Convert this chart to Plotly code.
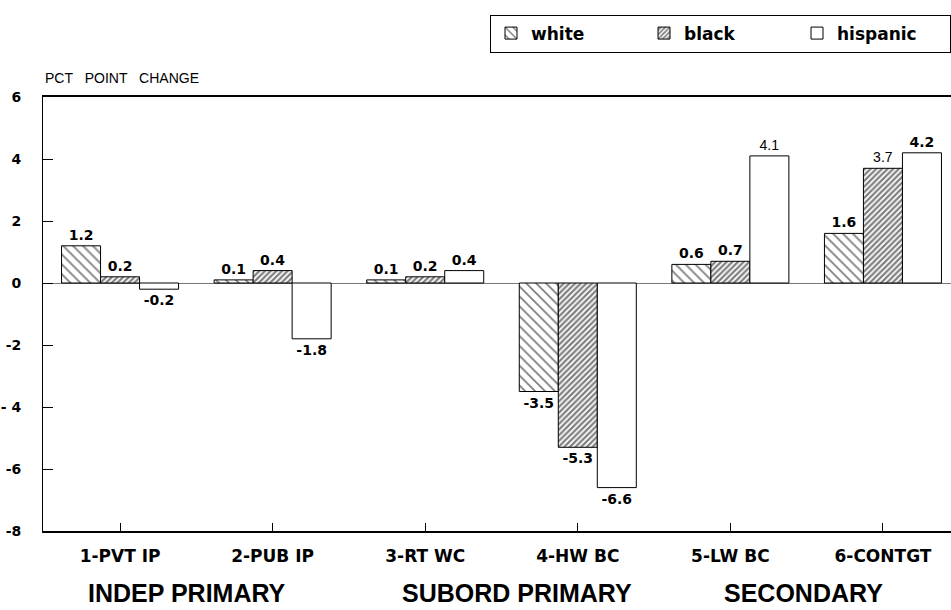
import plotly.graph_objects as go

categories = ["1-PVT IP", "2-PUB IP", "3-RT WC", "4-HW BC", "5-LW BC", "6-CONTGT"]
white = [1.2, 0.1, 0.1, -3.5, 0.6, 1.6]
black = [0.2, 0.4, 0.2, -5.3, 0.7, 3.7]
hispanic = [-0.2, -1.8, 0.4, -6.6, 4.1, 4.2]
# labels printed in a light (non-bold) face in the original
light_white = [False] * 6
light_black = [False, False, False, False, False, True]
light_hispanic = [False, False, False, False, True, False]

group_labels = ["INDEP PRIMARY", "SUBORD PRIMARY", "SECONDARY"]
group_pos = [0.44, 2.6, 4.48]
ytick_vals = [-8, -6, -4, -2, 0, 2, 4, 6]
ytick_text = ["-8", "-6", "- 4", "-2", "0", "2", "4", "6"]


def labels(vals, light):
    out = []
    for v, l in zip(vals, light):
        s = f"{v:.1f}"
        out.append(s if l else f"<b>{s}</b>")
    return out


def fams(light):
    return ["Liberation Sans" if l else "DejaVu Sans" for l in light]


fig = go.Figure()
series = [
    ("white", white, light_white, dict(shape="\\", fgcolor="black", bgcolor="white", size=7, solidity=0.25)),
    ("black", black, light_black, dict(shape="/", fgcolor="black", bgcolor="white", size=4, solidity=0.55)),
    ("hispanic", hispanic, light_hispanic, None),
]
for name, vals, light, pat in series:
    marker = dict(color="white", line=dict(color="black", width=1))
    if pat:
        marker["pattern"] = pat
    fig.add_trace(go.Bar(
        name=name, x=categories, y=vals, marker=marker,
        text=labels(vals, light), textposition="outside",
        textfont=dict(family=fams(light), size=14, color="black"),
        constraintext="none", cliponaxis=False,
    ))

for lab, pos in zip(group_labels, group_pos):
    fig.add_annotation(text=f"<b>{lab}</b>", x=pos, xref="x", y=-0.143, yref="paper",
                       yanchor="middle", xanchor="center", showarrow=False,
                       font=dict(family="Liberation Sans", size=25, color="black"))

fig.add_annotation(text="PCT&nbsp;&nbsp;&nbsp;POINT&nbsp;&nbsp;&nbsp;CHANGE", x=0, xref="paper", y=1,
                   yref="paper", xanchor="left", yanchor="bottom", yshift=9, showarrow=False,
                   font=dict(family="Liberation Sans", size=14, color="black"))

fig.update_layout(
    width=951, height=610,
    margin=dict(l=43, r=0, t=97, b=79),
    paper_bgcolor="white", plot_bgcolor="white",
    barmode="group", bargap=0.233, bargroupgap=0,
    showlegend=True,
    legend=dict(orientation="h", x=1, xanchor="right", y=1.19, yanchor="top",
                bordercolor="black", borderwidth=1, entrywidth=108,
                font=dict(family="DejaVu Sans", size=17, color="black", weight="bold")),
    xaxis=dict(showline=True, linecolor="black", linewidth=2, mirror=True,
               ticks="inside", ticklen=8, tickcolor="black", range=[-0.505, 5.446],
               tickfont=dict(family="DejaVu Sans", size=17, color="black", weight="bold"),
               ticklabelstandoff=9, showgrid=False),
    yaxis=dict(range=[-8, 6], showline=True, linecolor="black", linewidth=1,
               ticks="inside", ticklen=10, tickcolor="black",
               tickvals=ytick_vals, ticktext=ytick_text,
               tickfont=dict(family="DejaVu Sans", size=14, color="black", weight="bold"),
               ticklabelstandoff=18, showgrid=False,
               zeroline=True, zerolinecolor="#777777", zerolinewidth=1),
)

fig.write_html("out.html", config={"displayModeBar": False},
               post_script="document.body.style.margin='0';document.body.style.overflow='hidden';")
